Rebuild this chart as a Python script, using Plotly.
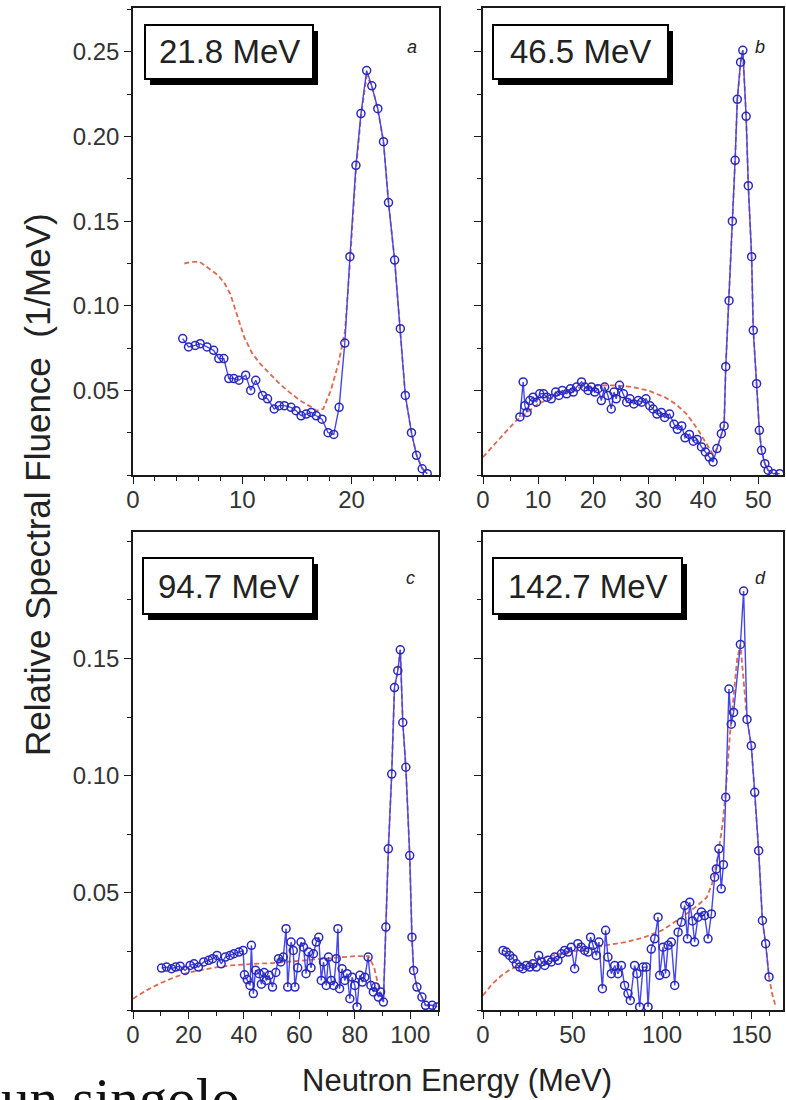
import plotly.graph_objects as go

W, H = 786, 1100

# ---------------- data ----------------
# Panel a : 21.8 MeV
a_energy = [4.55, 5.08, 5.69, 6.15, 6.77, 7.38, 7.85, 8.31, 8.77, 9.23, 9.69, 10.31, 10.77, 11.23,
            11.85, 12.31, 12.92, 13.38, 13.85, 14.46, 14.92, 15.38, 15.85, 16.31, 16.77, 17.29, 17.85,
            18.37, 18.86, 19.38, 19.85, 20.4, 20.86, 21.38, 21.85, 22.4, 22.92, 23.38, 23.94, 24.46,
            24.92, 25.48, 25.94, 26.46, 26.92]
a_fluence = [0.0806, 0.0757, 0.0766, 0.0776, 0.0757, 0.0737, 0.0688, 0.0688, 0.057, 0.057, 0.056,
             0.059, 0.050, 0.056, 0.047, 0.045, 0.039, 0.041, 0.041, 0.040, 0.038, 0.035, 0.036,
             0.037, 0.035, 0.033, 0.025, 0.024, 0.040, 0.078, 0.129, 0.183, 0.2136, 0.239, 0.230,
             0.2165, 0.197, 0.161, 0.127, 0.0865, 0.047, 0.025, 0.0116, 0.0037, 0.0008]
a_model_energy = [4.7, 5.4, 6.1, 7.0, 7.8, 8.4, 8.9, 9.5, 10.2, 10.9, 11.6, 12.5, 13.4, 14.3, 15.3,
                  16.1, 16.8, 17.4, 18.1, 18.8, 19.4, 19.85, 20.4, 20.86, 21.38, 21.85, 22.4, 22.92,
                  23.38, 23.94, 24.46, 24.92, 25.48, 25.94, 26.46, 26.92]
a_model_fluence = [0.125, 0.126, 0.126, 0.122, 0.118, 0.113, 0.107, 0.095, 0.081, 0.072, 0.066,
                   0.060, 0.054, 0.049, 0.044, 0.041, 0.038, 0.039, 0.050, 0.066, 0.085, 0.125,
                   0.180, 0.212, 0.236, 0.230, 0.216, 0.197, 0.161, 0.127, 0.087, 0.047, 0.025,
                   0.012, 0.004, 0.001]

# Panel b : 46.5 MeV
b_energy = [6.7, 7.3, 7.6, 8.0, 8.5, 9.1, 9.7, 10.3, 11.0, 11.6, 12.4, 13.2, 13.8, 14.4, 15.2, 15.9,
            16.4, 17.0, 17.9, 18.5, 19.1, 19.7, 20.3, 20.9, 21.5, 22.1, 22.7, 23.3, 23.8, 24.2, 24.8,
            25.5, 26.1, 26.7, 27.4, 28.2, 28.8, 29.6, 30.3, 30.9, 31.6, 32.4, 33.0, 33.9, 34.7, 35.3,
            36.1, 36.7, 37.5, 38.2, 38.9, 39.7, 40.4, 41.1, 41.8, 42.5, 43.3, 43.8, 44.1, 44.7, 45.3,
            45.8, 46.2, 46.8, 47.2, 47.8, 48.2, 48.8, 49.1, 49.7, 50.2, 50.6, 51.2, 51.8, 52.7, 53.9]
b_fluence = [0.0343, 0.055, 0.041, 0.037, 0.044, 0.046, 0.043, 0.048, 0.048, 0.046, 0.045, 0.049,
             0.047, 0.050, 0.048, 0.051, 0.049, 0.052, 0.055, 0.052, 0.050, 0.052, 0.049, 0.051,
             0.044, 0.052, 0.047, 0.039, 0.049, 0.045, 0.053, 0.048, 0.043, 0.045, 0.042, 0.044,
             0.043, 0.045, 0.041, 0.039, 0.036, 0.037, 0.034, 0.036, 0.030, 0.027, 0.029, 0.022,
             0.024, 0.020, 0.021, 0.0166, 0.0136, 0.0106, 0.0077, 0.0156, 0.0244, 0.029, 0.064,
             0.103, 0.150, 0.186, 0.222, 0.244, 0.251, 0.212, 0.171, 0.129, 0.0855, 0.054, 0.0264,
             0.0146, 0.0067, 0.0028, 0.0008, 0.0008]
b_model_energy = [0, 2, 4, 6, 8, 10, 12, 15, 18, 21, 24, 27, 30, 33, 35, 37, 39, 40.5, 41.8, 42.5,
                  43.3, 43.8, 44.1, 44.7, 45.3, 45.8, 46.2, 46.8, 47.2, 47.8, 48.2, 48.8, 49.1, 49.7,
                  50.2, 50.6, 51.2, 51.8, 52.7, 53.9]
b_model_fluence = [0.0106, 0.018, 0.025, 0.032, 0.037, 0.042, 0.045, 0.049, 0.052, 0.053, 0.053,
                   0.052, 0.050, 0.046, 0.042, 0.036, 0.027, 0.019, 0.012, 0.0156, 0.0244, 0.029,
                   0.064, 0.103, 0.150, 0.186, 0.222, 0.244, 0.251, 0.212, 0.171, 0.129, 0.0855,
                   0.054, 0.0264, 0.0146, 0.0067, 0.0028, 0.0008, 0.0008]

# Panel c : 94.7 MeV
c_energy = [10.3, 12.1, 13.9, 15.4, 17.0, 18.8, 20.6, 22.0, 23.6, 25.5, 27.3, 28.7, 30.3, 31.8, 33.3,
            35.0, 36.4, 38.2, 39.7,
            40.2, 41.2, 42.2, 42.7, 43.4, 44.2, 45.5, 46.3, 47.3, 48.1, 49.1, 50.3, 51.5, 52.5, 53.3,
            54.2, 55.2, 55.8, 57.0, 57.8, 58.4, 59.4, 60.6, 61.5, 62.4, 63.3, 64.2, 65.1, 66.1, 67.0,
            67.9, 68.7, 69.7, 70.5, 71.5, 72.4, 73.3, 73.9, 74.5, 75.4, 76.4, 77.2, 78.2, 79.0, 80.0,
            80.8, 81.8, 82.7, 83.6, 84.8, 85.8, 86.7, 87.5, 88.5, 89.3, 90.3,
            91.2, 92.1, 93.3, 94.3, 95.5, 96.4, 97.3, 98.4, 99.8, 100.6, 101.2, 102.4, 104.2, 105.5,
            107.9, 109.7]
c_fluence = [0.0179, 0.0183, 0.0176, 0.0183, 0.0187, 0.0169, 0.019, 0.0197, 0.0183, 0.0205, 0.0212,
             0.0219, 0.0233, 0.0197, 0.0226, 0.0233, 0.024, 0.0247, 0.0254,
             0.015, 0.013, 0.0105, 0.0276, 0.007, 0.017, 0.0155, 0.011, 0.016, 0.0126,
             0.0148, 0.0098, 0.016, 0.0219, 0.0205, 0.0226, 0.0347, 0.0098, 0.029, 0.0254,
             0.0098, 0.018, 0.029, 0.0268, 0.0155, 0.0247, 0.018, 0.024, 0.029, 0.031,
             0.0126, 0.0205, 0.0105, 0.0226, 0.0126, 0.0105, 0.0219, 0.0347, 0.0091, 0.0176,
             0.0126, 0.0155, 0.0048, 0.014, 0.0105, 0.0013, 0.0148, 0.0119, 0.014, 0.0226,
             0.0105, 0.0077, 0.0098, 0.0055, 0.0077, 0.0034,
             0.0354, 0.0688, 0.1007, 0.1376, 0.1448, 0.1537, 0.1227, 0.1036, 0.0659, 0.0311,
             0.0169, 0.0098, 0.0055, 0.002, 0.002, 0.0013]
c_model_energy = [0, 5, 10, 15, 20, 25, 30, 35, 40, 45, 50, 55, 60, 65, 70, 75, 80, 85, 87, 89, 90.3,
                  91.2, 92.1, 93.3, 94.3, 95.5, 96.4, 97.3, 98.4, 99.8, 100.6, 101.2, 102.4, 104.2,
                  105.5, 107.9]
c_model_fluence = [0.0048, 0.0085, 0.0115, 0.014, 0.016, 0.0172, 0.0182, 0.019, 0.0195, 0.0198,
                   0.020, 0.0205, 0.021, 0.0215, 0.022, 0.0228, 0.023, 0.023, 0.018, 0.008, 0.0034,
                   0.0354, 0.0688, 0.1007, 0.1376, 0.1448, 0.1537, 0.1227, 0.1036, 0.0659, 0.0311,
                   0.0169, 0.0098, 0.0055, 0.002, 0.002]

# Panel d : 142.7 MeV
d_energy = [11.2, 13.0, 14.9, 16.8, 18.6, 20.5, 22.3, 24.2, 26.1, 27.9, 29.8, 31.1, 32.6, 34.5, 36.3,
            38.2, 40.0, 41.9, 43.8, 45.6, 47.5, 49.3, 51.2, 53.0, 54.9, 56.8, 58.7, 60.1, 61.5, 63.3,
            64.8, 66.7, 68.5, 69.8, 71.7, 73.6, 75.4, 77.3, 79.1, 81.0, 82.3, 84.7, 86.0, 87.5, 89.4,
            91.2, 92.2, 94.0, 95.9, 97.8, 98.7, 100.6, 102.0, 103.4, 105.2, 107.1, 109.0, 110.8,
            112.7, 114.2, 115.5, 117.0, 118.2, 120.1, 122.0, 123.8, 125.7, 127.6, 129.4, 130.4,
            131.8, 133.1, 134.3, 135.6, 137.4, 138.7, 140.0, 143.8, 145.6, 147.5, 149.9, 151.8,
            154.0, 156.1, 157.9, 159.8]
d_fluence = [0.0254, 0.0247, 0.0233, 0.0219, 0.0197, 0.0183, 0.0176, 0.019, 0.0183, 0.0197, 0.0183,
             0.0233, 0.0205, 0.019, 0.0212, 0.0205, 0.0226, 0.0212, 0.024, 0.0254, 0.0247, 0.0268,
             0.0176, 0.0283, 0.0268, 0.0254, 0.0247, 0.0311, 0.0276, 0.0233, 0.029, 0.0091, 0.034,
             0.0226, 0.0155, 0.019, 0.0155, 0.019, 0.0105, 0.007, 0.0041, 0.019, 0.0155, 0.0013,
             0.0183, 0.0183, 0.0013, 0.026, 0.0304, 0.0396, 0.0148, 0.0268, 0.0155, 0.0276, 0.029,
             0.0105, 0.0332, 0.0375, 0.0446, 0.0304, 0.046, 0.038, 0.029, 0.0396, 0.0418, 0.0403,
             0.0304, 0.041, 0.0567, 0.0602, 0.0688, 0.0517, 0.062, 0.0908, 0.137, 0.122, 0.127,
             0.156, 0.1788, 0.124, 0.1128, 0.0929, 0.068, 0.0382, 0.0283, 0.0141]
d_model_energy = [0, 5, 10, 15, 20, 30, 40, 50, 60, 70, 80, 90, 100, 110, 118, 125, 128, 131, 134,
                  136, 138, 140, 142, 143.8, 147.5, 149.9, 151.8, 154.0, 156.1, 157.9, 159.8, 161.5,
                  163.5]
d_model_fluence = [0.0062, 0.011, 0.0145, 0.0172, 0.019, 0.0215, 0.0235, 0.025, 0.0265, 0.0278,
                   0.029, 0.031, 0.034, 0.039, 0.0435, 0.048, 0.054, 0.065, 0.08, 0.097, 0.118,
                   0.135, 0.150, 0.156, 0.124, 0.1128, 0.0929, 0.068, 0.0382, 0.0283, 0.0141,
                   0.007, 0.0015]

panel_labels = ["21.8 MeV", "46.5 MeV", "94.7 MeV", "142.7 MeV"]
panel_letters = ["a", "b", "c", "d"]
a_xticks = [0, 10, 20]
b_xticks = [0, 10, 20, 30, 40, 50]
c_xticks = [0, 20, 40, 60, 80, 100]
d_xticks = [0, 50, 100, 150]
top_yticks = [0.05, 0.10, 0.15, 0.20, 0.25]
bottom_yticks = [0.05, 0.10, 0.15]
y_title = "Relative Spectral Fluence  (1/MeV)"
x_title = "Neutron Energy (MeV)"
stray_text = "un singolo"

for e, f in [(a_energy, a_fluence), (a_model_energy, a_model_fluence), (b_energy, b_fluence),
             (b_model_energy, b_model_fluence), (c_energy, c_fluence),
             (c_model_energy, c_model_fluence), (d_energy, d_fluence),
             (d_model_energy, d_model_fluence)]:
    assert len(e) == len(f), (len(e), len(f))

# ---------------- layout geometry (pixels) ----------------
def fx(px):
    return px / W


def fy(py):
    return 1 - py / H


panels = [
    dict(e=a_energy, f=a_fluence, me=a_model_energy, mf=a_model_fluence, xt=a_xticks,
         yt=top_yticks, ylab=True, xr=[0, 28], yr=[0, 0.276], xdom=(133, 439), ydom=(8, 475),
         minor_x=2, box=(145, 25, 313, 79), letter=(412, 47)),
    dict(e=b_energy, f=b_fluence, me=b_model_energy, mf=b_model_fluence, xt=b_xticks,
         yt=top_yticks, ylab=False, xr=[0, 54.5], yr=[0, 0.276], xdom=(483, 783), ydom=(8, 475),
         minor_x=5, box=(493, 25, 668, 79), letter=(760, 47)),
    dict(e=c_energy, f=c_fluence, me=c_model_energy, mf=c_model_fluence, xt=c_xticks,
         yt=bottom_yticks, ylab=True, xr=[0, 110], yr=[0, 0.204], xdom=(133, 438),
         ydom=(532, 1010), minor_x=10, box=(143, 558, 313, 614), letter=(410, 578)),
    dict(e=d_energy, f=d_fluence, me=d_model_energy, mf=d_model_fluence, xt=d_xticks,
         yt=bottom_yticks, ylab=False, xr=[0, 167.6], yr=[0, 0.204], xdom=(483, 783),
         ydom=(532, 1010), minor_x=10, box=(493, 558, 682, 614), letter=(760, 578)),
]

FONT = "Arial, Liberation Sans, sans-serif"
AX_COL = "#1a1a1a"
BLUE_MK = "rgb(40,40,190)"
BLUE_LN = "rgb(70,70,230)"
RED = "rgb(220,105,80)"

fig = go.Figure()
layout = dict(width=W, height=H, margin=dict(l=0, r=0, t=0, b=0, autoexpand=False),
              paper_bgcolor="white", plot_bgcolor="white", showlegend=False, shapes=[],
              annotations=[])

for i, p in enumerate(panels):
    n = i + 1
    xn = "x" if n == 1 else f"x{n}"
    yn = "y" if n == 1 else f"y{n}"
    xk = "xaxis" if n == 1 else f"xaxis{n}"
    yk = "yaxis" if n == 1 else f"yaxis{n}"
    xo, yo = n + 4, n + 4

    fig.add_trace(go.Scatter(x=p["me"], y=p["mf"], mode="lines", xaxis=xn, yaxis=yn,
                             line=dict(color=RED, width=1.8, dash="5px,3px"), hoverinfo="skip"))
    fig.add_trace(go.Scatter(x=p["e"], y=p["f"], mode="lines+markers", xaxis=xn, yaxis=yn,
                             line=dict(color=BLUE_LN, width=1.4),
                             marker=dict(symbol="circle-open", size=8, color=BLUE_MK,
                                         line=dict(width=1.5))))

    xdom = [fx(p["xdom"][0]), fx(p["xdom"][1])]
    ydom = [fy(p["ydom"][1]), fy(p["ydom"][0])]
    common = dict(showgrid=False, zeroline=False, ticks="outside", ticklen=7, tickwidth=1.3,
                  tickcolor=AX_COL, linecolor=AX_COL, linewidth=1.6, showline=True, mirror=True,
                  automargin=False, tickfont=dict(family=FONT, size=24, color="#333"))
    layout[xk] = dict(common, domain=xdom, range=p["xr"], anchor=yn, tickmode="array",
                      tickvals=p["xt"], ticktext=[str(v) for v in p["xt"]],
                      ticklabelstandoff=-5,
                      minor=dict(dtick=p["minor_x"], tick0=0, ticks="outside", ticklen=4,
                                 tickcolor=AX_COL, tickwidth=1.2))
    layout[yk] = dict(common, domain=ydom, range=p["yr"], anchor=xn, tickmode="array",
                      tickvals=p["yt"], ticktext=[f"{v:.2f}" for v in p["yt"]],
                      showticklabels=p["ylab"],
                      minor=dict(dtick=0.025, tick0=0, ticks="outside", ticklen=4,
                                 tickcolor=AX_COL, tickwidth=1.2))
    # inward-pointing mirror ticks on top and right
    inner = dict(showgrid=False, zeroline=False, ticks="inside", ticklen=7, tickwidth=1.3,
                 tickcolor=AX_COL, showline=False, showticklabels=False, automargin=False)
    layout[f"xaxis{xo}"] = dict(inner, overlaying=xn, side="top", anchor=yn, range=p["xr"],
                                tickmode="array", tickvals=p["xt"],
                                minor=dict(dtick=p["minor_x"], tick0=0, ticks="inside",
                                           ticklen=4, tickcolor=AX_COL, tickwidth=1.2))
    layout[f"yaxis{yo}"] = dict(inner, overlaying=yn, side="right", anchor=xn, range=p["yr"],
                                tickmode="array", tickvals=p["yt"],
                                minor=dict(dtick=0.025, tick0=0, ticks="inside", ticklen=4,
                                           tickcolor=AX_COL, tickwidth=1.2))

    # label box with drop shadow
    x0, y0, x1, y1 = p["box"]
    layout["shapes"].append(dict(type="rect", xref="paper", yref="paper", x0=fx(x0 + 5),
                                 x1=fx(x1 + 5), y0=fy(y1 + 6), y1=fy(y0 + 6),
                                 fillcolor="black", line=dict(width=0)))
    layout["shapes"].append(dict(type="rect", xref="paper", yref="paper", x0=fx(x0), x1=fx(x1),
                                 y0=fy(y1), y1=fy(y0), fillcolor="white",
                                 line=dict(color="black", width=2)))
    layout["annotations"].append(dict(text=panel_labels[i], xref="paper", yref="paper",
                                      x=fx((x0 + x1) / 2), y=fy((y0 + y1) / 2), showarrow=False,
                                      xanchor="center", yanchor="middle",
                                      font=dict(family=FONT, size=33, color="#222")))
    lx, ly = p["letter"]
    layout["annotations"].append(dict(text=f"<i>{panel_letters[i]}</i>", xref="paper",
                                      yref="paper", x=fx(lx), y=fy(ly), showarrow=False,
                                      xanchor="center", yanchor="middle",
                                      font=dict(family=FONT, size=18, color="#222")))

layout["annotations"].append(dict(text=y_title, xref="paper", yref="paper", x=fx(37), y=fy(485),
                                  textangle=-90, showarrow=False, xanchor="center",
                                  yanchor="middle", font=dict(family=FONT, size=35, color="#222")))
layout["annotations"].append(dict(text=x_title, xref="paper", yref="paper", x=fx(457),
                                  y=fy(1080), showarrow=False, xanchor="center", yanchor="middle",
                                  font=dict(family=FONT, size=31, color="#222")))
layout["annotations"].append(dict(text=stray_text, xref="paper", yref="paper", x=fx(-1),
                                  y=fy(1098), showarrow=False, xanchor="left", yanchor="middle",
                                  font=dict(family="Liberation Serif, serif", size=57,
                                            color="#111")))

fig.update_layout(**layout)
fig.write_html(
    "out.html",
    config={"displayModeBar": False},
    post_script=("document.body.style.margin='0';document.body.style.padding='0';"
                 "document.documentElement.style.overflow='hidden';"),
)
